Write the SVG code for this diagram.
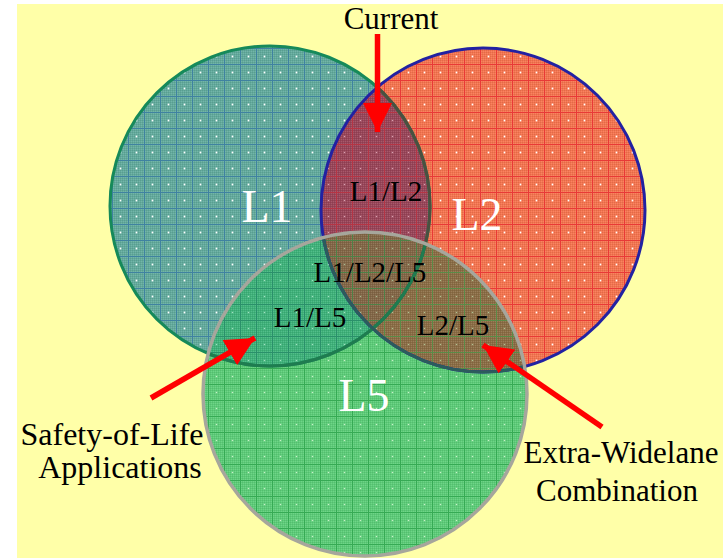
<svg xmlns="http://www.w3.org/2000/svg" width="727" height="559" viewBox="0 0 727 559">
<style>
.big{font-family:"Liberation Serif","Times New Roman",serif;fill:#fff;font-size:46px;text-anchor:middle;}
.ov{font-family:"Liberation Serif","Times New Roman",serif;fill:#000;font-size:29px;text-anchor:middle;}
.cap{font-family:"Liberation Serif","Times New Roman",serif;fill:#000;font-size:31px;text-anchor:middle;}
.arrow{stroke:#ff0000;stroke-width:5.5;fill:none;}
</style>
<defs>
<pattern id="dith" width="2" height="2" patternUnits="userSpaceOnUse">
<rect x="0" y="0" width="1" height="1" fill="#000" fill-opacity="0.08"/>
<rect x="1" y="1" width="1" height="1" fill="#fff" fill-opacity="0.12"/>
</pattern>
<pattern id="pL1" width="16" height="16" patternUnits="userSpaceOnUse">
<rect width="16" height="16" fill="#62aa9c"/><rect width="16" height="16" fill="url(#dith)"/>
<path d="M0 0.5H16M0.5 0V16" stroke="#3f82a0" stroke-width="1"/><circle cx="8.5" cy="8.5" r="0.9" fill="#fff"/>
</pattern>
<pattern id="pL2" width="16" height="16" patternUnits="userSpaceOnUse">
<rect width="16" height="16" fill="#f4744f"/><rect width="16" height="16" fill="url(#dith)"/>
<path d="M0 0.5H16M0.5 0V16" stroke="#e83a36" stroke-width="1"/><circle cx="8.5" cy="8.5" r="0.9" fill="#fff"/>
</pattern>
<pattern id="pL5" width="16" height="16" patternUnits="userSpaceOnUse">
<rect width="16" height="16" fill="#5ccc78"/><rect width="16" height="16" fill="url(#dith)"/>
<path d="M0 0.5H16M0.5 0V16" stroke="#36aa54" stroke-width="1"/><circle cx="8.5" cy="8.5" r="0.8" fill="#c8f0c8"/>
</pattern>
<pattern id="p12" width="16" height="16" patternUnits="userSpaceOnUse">
<rect width="16" height="16" fill="#984458"/><rect width="16" height="16" fill="url(#dith)"/>
<path d="M0 0.5H16M0.5 0V16" stroke="#b53444" stroke-width="1"/><circle cx="8.5" cy="8.5" r="0.8" fill="#d8a0b0"/>
</pattern>
<pattern id="p15" width="16" height="16" patternUnits="userSpaceOnUse">
<rect width="16" height="16" fill="#3eb27a"/><rect width="16" height="16" fill="url(#dith)"/>
<path d="M0 0.5H16M0.5 0V16" stroke="#2a906a" stroke-width="1"/><circle cx="8.5" cy="8.5" r="0.8" fill="#a0e0c0"/>
</pattern>
<pattern id="p25" width="16" height="16" patternUnits="userSpaceOnUse">
<rect width="16" height="16" fill="#8a6c44"/><rect width="16" height="16" fill="url(#dith)"/>
<path d="M0 0.5H16M0.5 0V16" stroke="#5a8a46" stroke-width="1"/><circle cx="8.5" cy="8.5" r="0.8" fill="#b0c090"/>
</pattern>
<pattern id="p125" width="16" height="16" patternUnits="userSpaceOnUse">
<rect width="16" height="16" fill="#826646"/><rect width="16" height="16" fill="url(#dith)"/>
<path d="M0 0.5H16M0.5 0V16" stroke="#4e8046" stroke-width="1"/><circle cx="8.5" cy="8.5" r="0.8" fill="#a8b890"/>
</pattern>
<clipPath id="cL1"><circle cx="270" cy="206" r="160"/></clipPath>
<clipPath id="cL2"><circle cx="483" cy="210" r="162"/></clipPath>
<clipPath id="cL5"><circle cx="365" cy="394" r="162"/></clipPath>
<marker id="ah" viewBox="0 0 10 10" refX="10" refY="5" markerWidth="5.3" markerHeight="5.3" orient="auto" markerUnits="strokeWidth">
<path d="M0 0L10 5L0 10Z" fill="#ff0000"/>
</marker>
</defs>

<rect x="17" y="4" width="706" height="554" fill="#ffffa8"/>

<g id="node-L1"><circle cx="270" cy="206" r="160" fill="url(#pL1)"/></g>
<g id="node-L2"><circle cx="483" cy="210" r="162" fill="url(#pL2)"/></g>
<g id="node-L5"><circle cx="365" cy="394" r="162" fill="url(#pL5)"/></g>

<g id="overlaps">
<g id="region-L1-L2" clip-path="url(#cL1)"><circle cx="483" cy="210" r="162" fill="url(#p12)"/></g>
<g id="region-L1-L5" clip-path="url(#cL1)"><circle cx="365" cy="394" r="162" fill="url(#p15)"/></g>
<g id="region-L2-L5" clip-path="url(#cL2)"><circle cx="365" cy="394" r="162" fill="url(#p25)"/></g>
<g id="region-L1-L2-L5" clip-path="url(#cL1)"><g clip-path="url(#cL2)"><circle cx="365" cy="394" r="162" fill="url(#p125)"/></g></g>
</g>

<g id="outlines" fill="none">
<circle cx="270" cy="206" r="160" stroke="#168a5a" stroke-width="3"/>
<circle cx="483" cy="210" r="162" stroke="#2222a2" stroke-width="3"/>
<g clip-path="url(#cL2)"><circle cx="270" cy="206" r="160" stroke="#4a5040" stroke-width="3"/></g>
<g clip-path="url(#cL5)">
<circle cx="270" cy="206" r="160" stroke="#1f7c50" stroke-width="3"/>
<circle cx="483" cy="210" r="162" stroke="#2c5c5c" stroke-width="3"/>
</g>
<circle cx="365" cy="394" r="162" stroke="#a6a69c" stroke-width="3.5"/>
</g>

<g id="labels-sets">
<text class="big" x="267" y="222">L1</text>
<text class="big" x="477" y="230">L2</text>
<text class="big" x="364" y="411">L5</text>
<text class="ov" x="386" y="201">L1/L2</text>
<text class="ov" x="370" y="282">L1/L2/L5</text>
<text class="ov" x="310" y="327">L1/L5</text>
<text class="ov" x="453" y="335">L2/L5</text>
</g>

<g id="connectors">
<line class="arrow" x1="377.5" y1="34" x2="377.5" y2="132" marker-end="url(#ah)"/>
<line class="arrow" x1="151" y1="398" x2="255" y2="338" marker-end="url(#ah)"/>
<line class="arrow" x1="602" y1="427" x2="483" y2="345" marker-end="url(#ah)"/>
</g>

<g id="label-current"><text class="cap" x="391" y="29">Current</text></g>
<g id="label-safety"><text class="cap" x="112" y="445" style="font-size:32px">Safety-of-Life</text><text class="cap" x="120" y="478" style="font-size:32px">Applications</text></g>
<g id="label-extra"><text class="cap" x="621" y="463">Extra-Widelane</text><text class="cap" x="617" y="501">Combination</text></g>
</svg>
